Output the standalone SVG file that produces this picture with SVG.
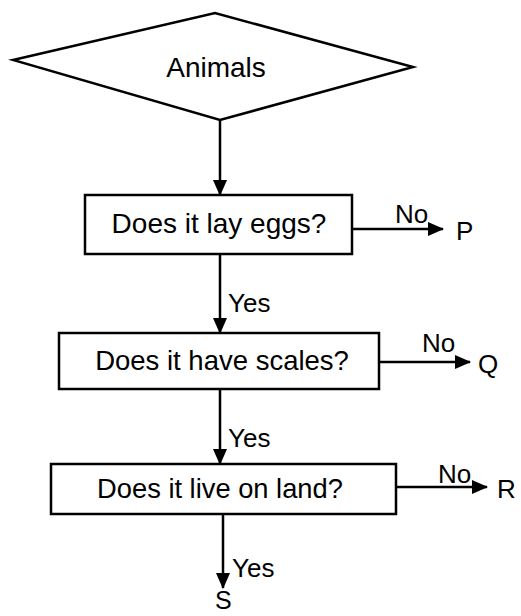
<svg xmlns="http://www.w3.org/2000/svg" width="521" height="616" viewBox="0 0 521 616">
<defs>
<style>
.shape{fill:#fff;stroke:#000;stroke-width:2.5}
.t{font-family:"Liberation Sans",Arial,sans-serif;font-size:28px;fill:#000}
.l{font-family:"Liberation Sans",Arial,sans-serif;font-size:26px;fill:#000}
.c{stroke:#000;stroke-width:2.5;fill:none;marker-end:url(#ah)}
</style>
<marker id="ah" markerUnits="userSpaceOnUse" markerWidth="16" markerHeight="14" viewBox="0 0 16 14" refX="15" refY="7" orient="auto">
<path d="M0,0 L16,7 L0,14 Z" fill="#000"/>
</marker>
</defs>
<rect width="521" height="616" fill="#fff"/>
<g id="connectors">
<line class="c" x1="220" y1="120" x2="220" y2="195"/>
<line class="c" x1="220" y1="254" x2="220" y2="333"/>
<line class="c" x1="220" y1="389" x2="220" y2="464"/>
<line class="c" x1="223" y1="514" x2="223" y2="588"/>
<line class="c" x1="352" y1="229" x2="443" y2="229"/>
<line class="c" x1="379" y1="362" x2="470" y2="362"/>
<line class="c" x1="396" y1="487" x2="487" y2="487"/>
<text class="l" x="228" y="312">Yes</text>
<text class="l" x="228" y="447">Yes</text>
<text class="l" x="232" y="577">Yes</text>
<text class="l" x="395" y="223">No</text>
<text class="l" x="422" y="352">No</text>
<text class="l" x="438" y="483">No</text>
</g>
<g id="animals">
<polygon class="shape" points="13,60 215,13 413,67 220,120"/>
<text class="t" x="216" y="77" text-anchor="middle">Animals</text>
</g>
<g id="eggs">
<rect class="shape" x="85" y="195" width="267" height="59"/>
<text class="t" x="219" y="233" text-anchor="middle">Does it lay eggs?</text>
</g>
<g id="scales">
<rect class="shape" x="59" y="333" width="320" height="56"/>
<text class="t" x="222" y="370" text-anchor="middle" style="font-size:27.5px">Does it have scales?</text>
</g>
<g id="land">
<rect class="shape" x="51" y="464" width="345" height="50"/>
<text class="t" x="220" y="498" text-anchor="middle" style="font-size:27.3px">Does it live on land?</text>
</g>
<g id="P"><text class="l" x="456" y="240">P</text></g>
<g id="Q"><text class="l" x="478" y="373">Q</text></g>
<g id="R"><text class="l" x="497" y="498">R</text></g>
<g id="S"><text class="l" x="215" y="609" style="font-size:25px">S</text></g>
</svg>
